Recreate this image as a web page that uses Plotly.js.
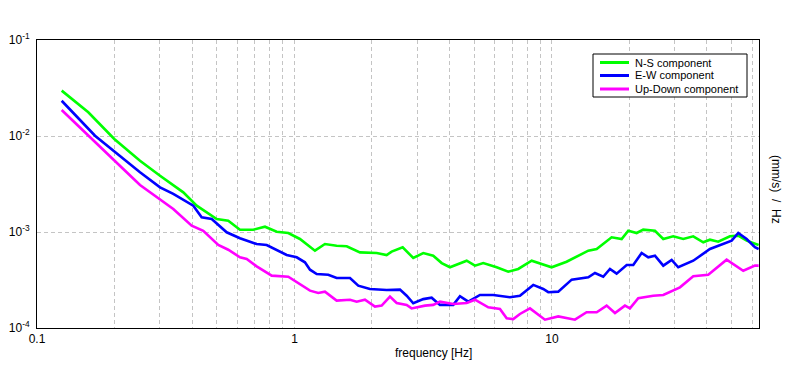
<!DOCTYPE html>
<html>
<head>
<meta charset="utf-8">
<script src="https://cdn.plot.ly/plotly-3.0.1.min.js"></script>
<style>html,body{margin:0;padding:0;background:#fff;}#chart{width:796px;height:370px;}</style>
</head>
<body>
<div id="chart"></div>
<script>
// ---- data ----
var seriesNames = ["N-S component", "E-W component", "Up-Down component"];
var seriesColors = ["#00ff00", "#0000ff", "#ff00ff"];

var nsFreq = [0.1247,0.1582,0.1996,0.2512,0.3005,0.370,0.417,0.499,0.5531,0.6142,0.6918,0.768,0.853,0.946,1.050,1.201,1.313,1.458,1.595,1.796,2.085,2.280,2.385,2.632,2.893,3.164,3.459,3.731,4.017,4.664,5.023,5.411,6.099,6.765,7.397,8.340,9.97,11.40,13.84,14.92,17.05,18.65,19.79,21.33,22.62,25.12,27.06,29.59,32.36,35.38,38.70,41.08,44.24,49.12,52.91,57.03,63.5];
var nsVal  = [0.0297,0.01766,0.00931,0.00553,0.00386,0.00259,0.00188,0.001366,0.001312,0.001057,0.001057,0.001135,0.001007,0.000976,0.000846,0.000639,0.00075,0.00072,0.00071,0.000614,0.000604,0.000576,0.000624,0.000693,0.000536,0.000604,0.000566,0.000475,0.000429,0.000502,0.000446,0.000475,0.000429,0.000386,0.000412,0.000502,0.000429,0.00049,0.000639,0.000665,0.000881,0.000846,0.00103,0.000976,0.001057,0.00103,0.000846,0.000902,0.000846,0.000902,0.000781,0.000832,0.000792,0.000902,0.000915,0.000812,0.000733];

var ewFreq = [0.1247,0.168,0.2512,0.3005,0.3383,0.4046,0.436,0.477,0.5453,0.6142,0.6718,0.7132,0.780,0.853,0.9326,1.02,1.098,1.149,1.22,1.353,1.458,1.643,1.769,1.964,2.280,2.569,2.727,2.893,3.164,3.41,3.673,4.137,4.392,4.732,5.253,5.916,6.868,7.509,8.461,9.25,9.676,10.58,11.93,13.84,14.69,15.82,16.80,17.83,19.51,20.69,22.30,23.66,25.12,27.06,29.17,30.94,35.38,41.08,47.69,49.88,52.91,57.03,61.42,63.5];
var ewVal  = [0.0233,0.01007,0.00419,0.00292,0.00249,0.00188,0.00142,0.001366,0.000993,0.00086,0.000792,0.00075,0.000732,0.000654,0.000576,0.000545,0.000483,0.000405,0.000365,0.000359,0.000332,0.000332,0.000276,0.000255,0.000249,0.000251,0.000217,0.000181,0.0002,0.000207,0.000174,0.000174,0.000214,0.000188,0.000221,0.000221,0.000209,0.000217,0.000281,0.000255,0.000236,0.000239,0.000319,0.000337,0.000374,0.000342,0.000412,0.000368,0.000453,0.000453,0.000604,0.000545,0.000566,0.000446,0.000511,0.000429,0.000502,0.000665,0.000781,0.000812,0.000976,0.000846,0.000693,0.000665];

var udFreq = [0.1247,0.1654,0.2163,0.2512,0.3005,0.3383,0.3988,0.4423,0.5059,0.5531,0.6142,0.6524,0.7132,0.8157,0.946,1.05,1.149,1.237,1.313,1.458,1.643,1.744,1.878,2.054,2.181,2.349,2.494,2.727,2.851,3.213,3.459,3.673,4.137,4.664,5.023,5.658,6.281,6.67,7.074,7.509,8.215,9.394,10.58,12.28,13.63,14.92,16.31,17.57,19.21,20.09,21.64,24.74,27.06,31.42,35.38,40.46,47.69,55.33,61.42,63.5];
var udVal  = [0.01866,0.00893,0.00453,0.00309,0.00217,0.001736,0.001164,0.00103,0.000732,0.000654,0.000545,0.000524,0.000439,0.000351,0.000342,0.000287,0.000245,0.000232,0.000239,0.000193,0.000197,0.000188,0.000197,0.000167,0.000171,0.000212,0.000182,0.000174,0.00016,0.000171,0.000174,0.000188,0.000178,0.000182,0.000197,0.000164,0.000158,0.000126,0.000124,0.00014,0.00016,0.000122,0.000132,0.000122,0.000146,0.000146,0.000171,0.000143,0.000171,0.00016,0.000204,0.000217,0.000221,0.000265,0.000346,0.000359,0.000515,0.000395,0.000446,0.000446];

var xTickVals = [0.1, 1, 10];
var xTickText = ["0.1", "1", "10"];
var xMinorVals = [0.2,0.3,0.4,0.5,0.6,0.7,0.8,0.9,2,3,4,5,6,7,8,9,20,30,40,50,60];
var yTickVals = [0.0001,0.001,0.01,0.1];
var yTickText = ["10<sup>-4</sup>","10<sup>-3</sup>","10<sup>-2</sup>","10<sup>-1</sup>"];
var xTitle = "frequency [Hz]";
var yTitle = "(mm/s)  /  Hz";

// ---- chart ----
var xs = [nsFreq, ewFreq, udFreq];
var ys = [nsVal, ewVal, udVal];
var traces = [];
for (var i = 0; i < 3; i++) {
  traces.push({x: xs[i], y: ys[i], type: "scatter", mode: "lines", name: seriesNames[i],
    line: {color: seriesColors[i], width: 2.6}, showlegend: false});
}

var font = {family: "Liberation Sans, Arial, sans-serif", size: 12, color: "#000"};
var L = 37, R = 759, T = 40, B = 328;
var W = R - L, H = B - T;
function px(x) { return (x - L) / W; }
function py(y) { return 1 - (y - T) / H; }

var shapes = [{type: "rect", xref: "paper", yref: "paper", x0: px(593), x1: px(747), y0: py(97), y1: py(54),
  line: {color: "#000", width: 1}, fillcolor: "#fff"}];
var annotations = [];
var rowY = [62.5, 75.5, 89];
for (var k = 0; k < 3; k++) {
  shapes.push({type: "line", xref: "paper", yref: "paper", x0: px(600), x1: px(629), y0: py(rowY[k]), y1: py(rowY[k]),
    line: {color: seriesColors[k], width: 3}});
  annotations.push({xref: "paper", yref: "paper", x: px(633), y: py(rowY[k]), xanchor: "left", yanchor: "middle",
    text: seriesNames[k], showarrow: false, font: {family: font.family, size: 11, color: "#000"}});
}
annotations.push({xref: "paper", yref: "paper", x: px(433), y: py(353), xanchor: "center", yanchor: "middle",
  text: xTitle, showarrow: false, font: font});
annotations.push({xref: "paper", yref: "paper", x: px(776), y: py(189), xanchor: "center", yanchor: "middle",
  text: yTitle, textangle: 90, showarrow: false, font: font});

var gridStyle = {gridcolor: "#c4c4c4", griddash: "4px,3px", gridwidth: 1};

var layout = {
  width: 796, height: 370,
  margin: {l: L, r: 796 - R, t: T, b: 370 - B, pad: 0},
  paper_bgcolor: "#fff", plot_bgcolor: "#fff",
  font: font,
  showlegend: false,
  xaxis: {type: "log", range: [-1, Math.log10(63.7)], tickmode: "array", tickvals: xTickVals, ticktext: xTickText,
    showgrid: true, gridcolor: gridStyle.gridcolor, griddash: gridStyle.griddash, gridwidth: 1,
    minor: {tickmode: "array", tickvals: xMinorVals, showgrid: true, gridcolor: gridStyle.gridcolor,
      griddash: gridStyle.griddash, gridwidth: 1, ticks: ""},
    showline: true, linecolor: "#000", linewidth: 1, mirror: true, ticks: "", zeroline: false,
    tickfont: font},
  yaxis: {type: "log", range: [-4, -1], tickmode: "array", tickvals: yTickVals, ticktext: yTickText,
    showgrid: true, gridcolor: gridStyle.gridcolor, griddash: gridStyle.griddash, gridwidth: 1,
    showline: true, linecolor: "#000", linewidth: 1, mirror: true, ticks: "", zeroline: false,
    tickfont: font, ticklabelstandoff: 4},
  shapes: shapes,
  annotations: annotations
};

Plotly.newPlot("chart", traces, layout, {displayModeBar: false, staticPlot: true});
</script>
</body>
</html>
